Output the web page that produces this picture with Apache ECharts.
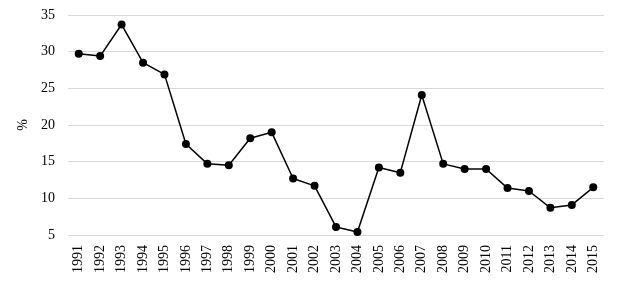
<!DOCTYPE html>
<html><head><meta charset="utf-8">
<script src="https://cdn.jsdelivr.net/npm/echarts@6/dist/echarts.min.js"></script>
<style>html,body{margin:0;padding:0;background:#fff}#c{width:619px;height:286px}</style>
</head><body><div id="c"></div>
<script>
const years = ['1991','1992','1993','1994','1995','1996','1997','1998','1999','2000','2001','2002','2003','2004','2005','2006','2007','2008','2009','2010','2011','2012','2013','2014','2015'];
const values = [29.7,29.4,33.7,28.5,26.9,17.4,14.7,14.5,18.2,19.0,12.7,11.7,6.1,5.4,14.2,13.5,24.1,14.7,14.0,14.0,11.4,11.0,8.7,9.1,11.5];
const yMin = 5, yMax = 35, yStep = 5;
const chart = echarts.init(document.getElementById('c'));
const font = 'Liberation Serif, Times New Roman, serif';
chart.setOption({
  animation: false,
  grid: {left: 68, right: 15, top: 15, bottom: 51},
  xAxis: {
    type: 'category', data: years, boundaryGap: true,
    axisLine: {show: false}, axisTick: {show: false},
    axisLabel: {rotate: 90, margin: 10, color: '#000', fontFamily: font, fontSize: 14}
  },
  yAxis: {
    type: 'value', min: yMin, max: yMax, interval: yStep,
    name: '%', nameLocation: 'middle', nameGap: 36, nameRotate: 90,
    nameTextStyle: {color: '#000', fontFamily: font, fontSize: 14},
    axisLine: {show: false}, axisTick: {show: false},
    axisLabel: {color: '#000', fontFamily: font, fontSize: 14, margin: 13},
    splitLine: {lineStyle: {color: '#d9d9d9', width: 1}}
  },
  series: [{
    type: 'line', data: values, symbol: 'circle', symbolSize: 8,
    lineStyle: {color: '#000', width: 1.5}, itemStyle: {color: '#000'}
  }]
});
</script></body></html>
